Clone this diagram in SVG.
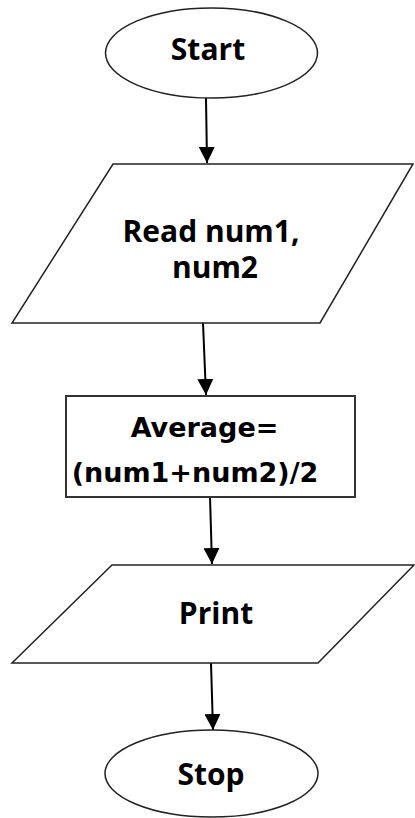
<svg xmlns="http://www.w3.org/2000/svg" width="415" height="818" viewBox="0 0 415 818">
<defs>
<style>
.shape{fill:#fff;stroke:#222;stroke-width:1.5}
.box{fill:#fff;stroke:#333;stroke-width:2}
.lbl{font-family:"Open Sans","DejaVu Sans",sans-serif;font-weight:bold;font-size:30px;fill:#000;text-anchor:middle}
.lbl2{font-family:"DejaVu Sans",sans-serif;font-size:27px}
.conn{stroke:#000;stroke-width:2;fill:none}
</style>
<marker id="arr" viewBox="0 0 16 16" refX="16" refY="8" markerWidth="16" markerHeight="16" markerUnits="userSpaceOnUse" orient="auto">
<path d="M0,0 L16,8 L0,16 Z" fill="#000"/>
</marker>
</defs>
<rect width="415" height="818" fill="#fff"/>
<g id="connectors">
<line class="conn" x1="206" y1="98" x2="207" y2="163" marker-end="url(#arr)"/>
<line class="conn" x1="203" y1="323" x2="206" y2="395" marker-end="url(#arr)"/>
<line class="conn" x1="210" y1="497" x2="212" y2="564" marker-end="url(#arr)"/>
<line class="conn" x1="211" y1="663" x2="213" y2="730" marker-end="url(#arr)"/>
</g>
<g id="start">
<ellipse class="shape" cx="211.5" cy="53" rx="106" ry="45"/>
<text class="lbl" x="208" y="60">Start</text>
</g>
<g id="read">
<polygon class="shape" points="113,164 413,164 320,323 12,323"/>
<text class="lbl" x="211" y="242">Read num1,</text>
<text class="lbl" x="215" y="278">num2</text>
</g>
<g id="average">
<rect class="box" x="66" y="396" width="289" height="101"/>
<text class="lbl lbl2" x="204.5" y="437">Average=</text>
<text class="lbl lbl2" x="195" y="482">(num1+num2)/2</text>
</g>
<g id="print">
<polygon class="shape" points="112,565 414,565 318,663 12,663"/>
<text class="lbl" x="216" y="624">Print</text>
</g>
<g id="stop">
<ellipse class="shape" cx="211.5" cy="773.5" rx="106.5" ry="43.5"/>
<text class="lbl" x="211" y="785">Stop</text>
</g>
</svg>
